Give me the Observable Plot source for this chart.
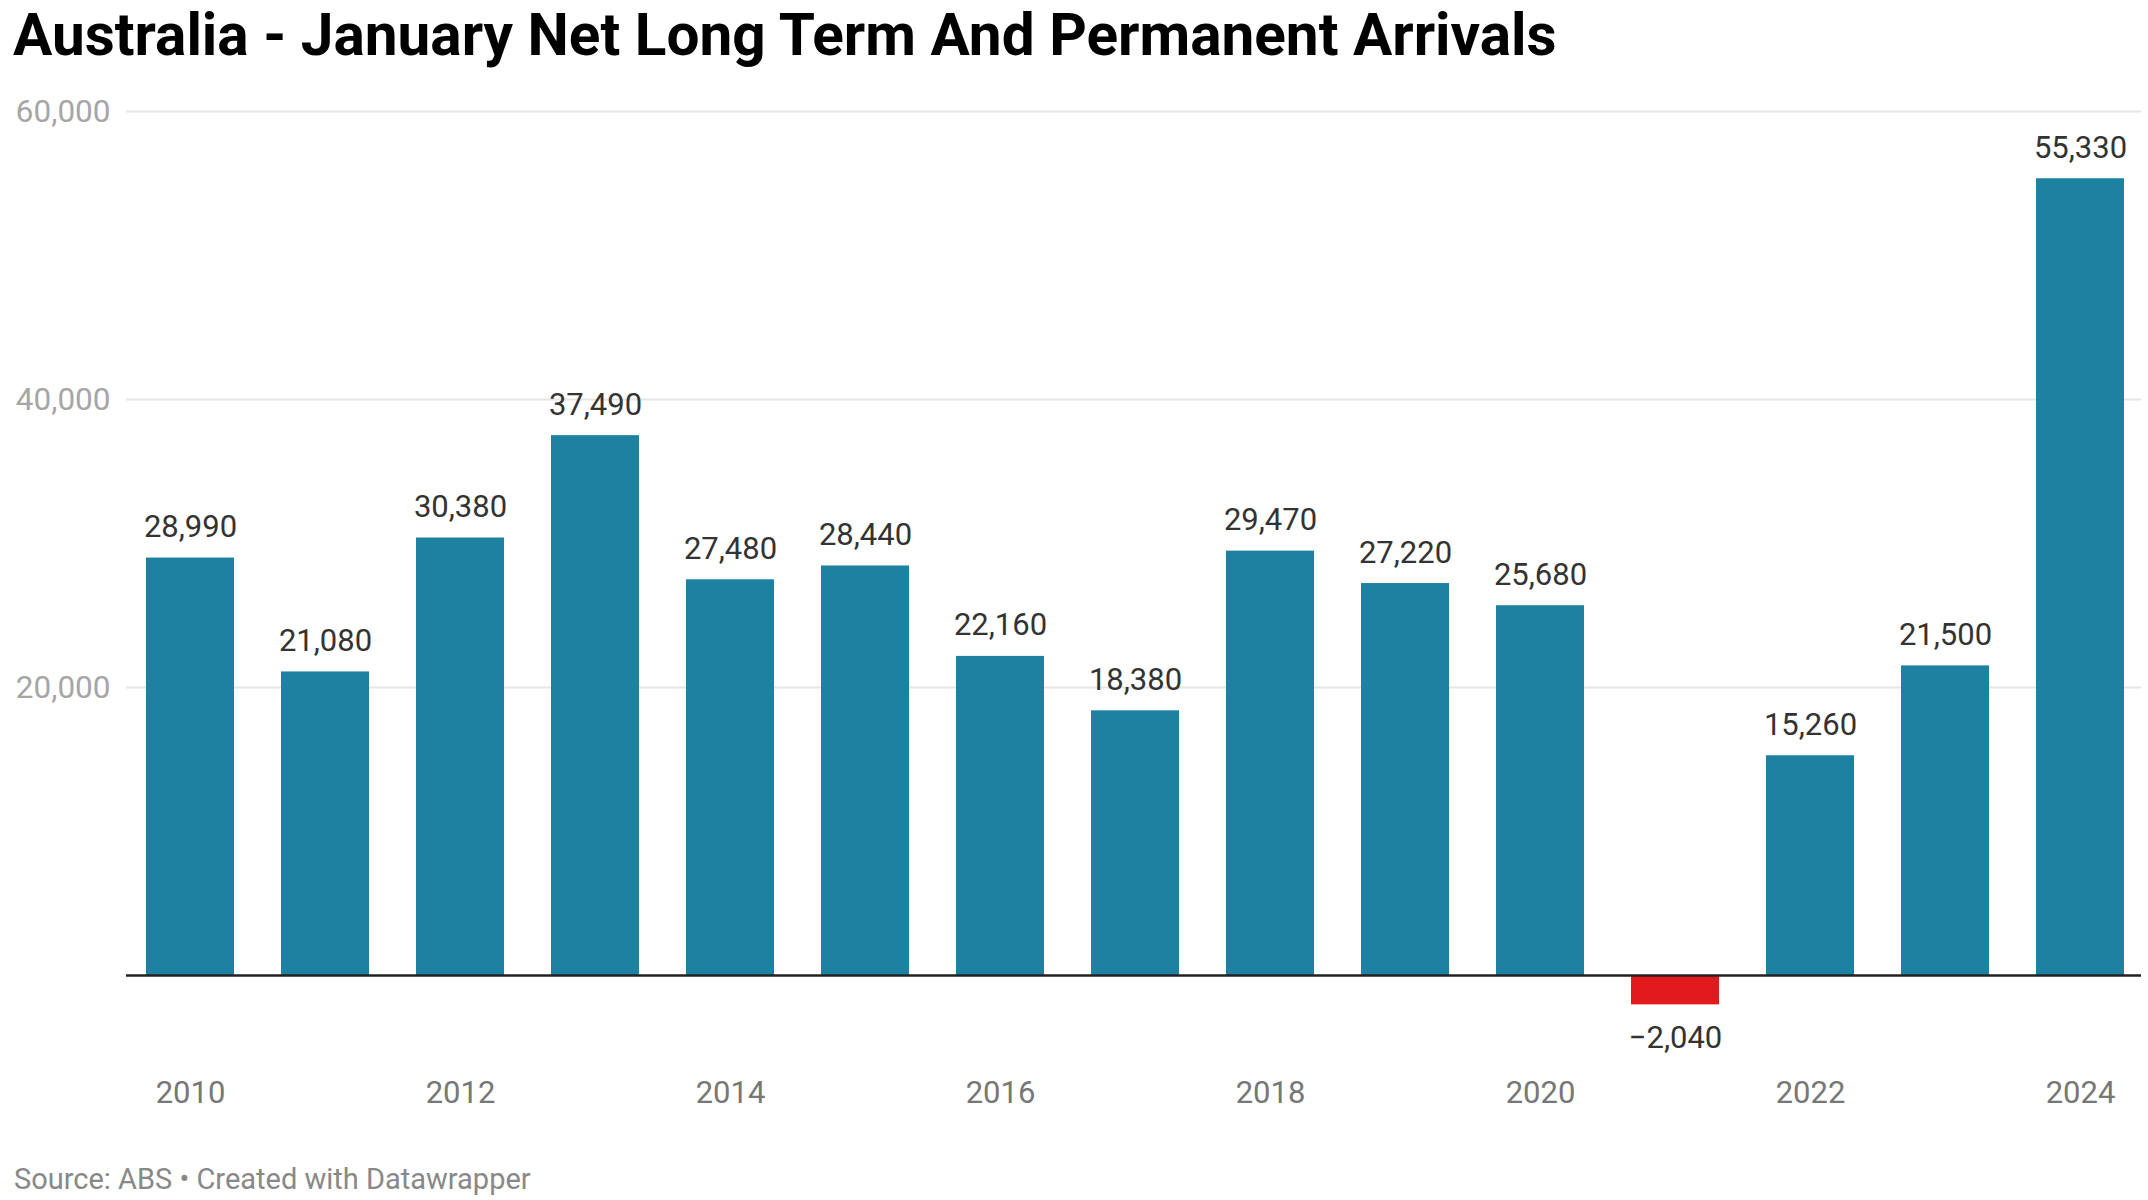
<!DOCTYPE html>
<html>
<head>
<meta charset="utf-8">
<script src="https://cdn.jsdelivr.net/npm/d3@7"></script>
<script src="https://cdn.jsdelivr.net/npm/@observablehq/plot@0.6"></script>
<style>
  html, body { margin: 0; padding: 0; background: #fff; }
  body { width: 2148px; height: 1200px; overflow: hidden; font-family: Roboto, sans-serif; }
  #title { font-family: Roboto, sans-serif; font-weight: 700; font-size: 58.5px; line-height: 58px; height: 58px; padding: 6px 0 6px 13px; color: #000; white-space: nowrap; }
  #footer { font-family: Roboto, sans-serif; font-size: 29px; line-height: 29px; padding-left: 14px; color: #888; white-space: nowrap; margin-top: -2px; }
  #chart svg { display: block; overflow: visible; }
</style>
</head>
<body>
<div id="title">Australia - January Net Long Term And Permanent Arrivals</div>
<div id="chart"></div>
<div id="footer">Source: ABS • Created with Datawrapper</div>
<script>
const years = [2010, 2011, 2012, 2013, 2014, 2015, 2016, 2017, 2018, 2019, 2020, 2021, 2022, 2023, 2024];
const arrivals = [28990, 21080, 30380, 37490, 27480, 28440, 22160, 18380, 29470, 27220, 25680, -2040, 15260, 21500, 55330];
const xTicks = [2010, 2012, 2014, 2016, 2018, 2020, 2022, 2024];
const yTicks = [20000, 40000, 60000];

const data = years.map((year, i) => ({year, value: arrivals[i]}));
const fmt = d3.format(",");

const chart = Plot.plot({
  width: 2148,
  height: 1097,
  marginTop: 41,
  marginBottom: 192,
  marginLeft: 132,
  marginRight: 10,
  style: {fontFamily: "Roboto, sans-serif", background: "transparent", overflow: "visible"},
  x: {type: "band", domain: years, paddingInner: 0.35, paddingOuter: 0.1, label: null},
  y: {domain: [0, 60000], nice: false, label: null},
  marks: [
    Plot.ruleY(yTicks, {stroke: "#e5e5e5", strokeWidth: 2, insetLeft: -6, insetRight: -3}),
    Plot.axisY({ticks: yTicks, tickSize: 0, tickPadding: 22, tickFormat: fmt, fontSize: 31.5, fill: "#a6a6a6", label: null}),
    Plot.axisX({ticks: xTicks, tickSize: 0, tickPadding: 105, tickFormat: d => String(d), fontSize: 31, fill: "#777777", label: null}),
    Plot.barY(data, {x: "year", y: "value", fill: d => d.value < 0 ? "#e31a1c" : "#1d81a2"}),
    Plot.ruleY([0], {stroke: "#222", strokeWidth: 2.5, insetLeft: -6, insetRight: -3}),
    Plot.text(data.filter(d => d.value >= 0), {x: "year", y: "value", text: d => fmt(d.value), lineAnchor: "bottom", dy: -21, fontSize: 31, fill: "#333"}),
    Plot.text(data.filter(d => d.value < 0), {x: "year", y: "value", text: d => fmt(d.value), lineAnchor: "top", dy: 21, fontSize: 31, fill: "#333"})
  ]
});
document.getElementById("chart").appendChild(chart);
</script>
</body>
</html>
